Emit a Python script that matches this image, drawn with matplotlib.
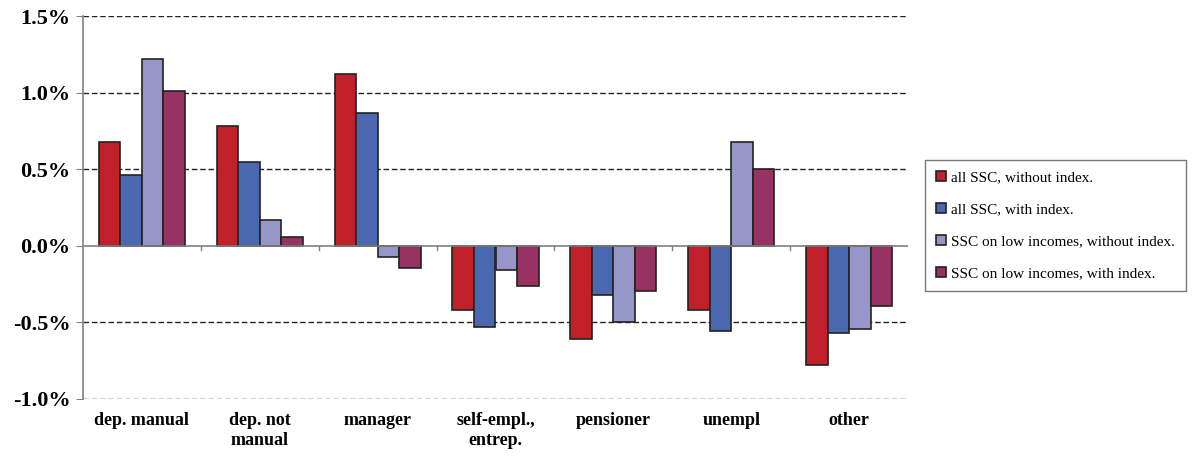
import numpy as np
import matplotlib.pyplot as plt
from matplotlib.ticker import FuncFormatter

categories = ["dep. manual", "dep. not\nmanual", "manager", "self-empl.,\nentrep.",
              "pensioner", "unempl", "other"]
series_names = ["all SSC, without index.", "all SSC, with index.",
                "SSC on low incomes, without index.", "SSC on low incomes, with index."]
all_no_idx = [0.68, 0.78, 1.12, -0.42, -0.61, -0.42, -0.78]
all_idx = [0.46, 0.545, 0.87, -0.53, -0.32, -0.555, -0.57]
low_no_idx = [1.22, 0.17, -0.07, -0.155, -0.495, 0.675, -0.545]
low_idx = [1.01, 0.055, -0.145, -0.26, -0.295, 0.50, -0.39]
colors = ["#c0202a", "#4a68b0", "#9696c8", "#983263"]

plt.rcParams["font.family"] = ["Liberation Serif", "DejaVu Serif"]

fig = plt.figure(figsize=(11.99, 4.57), dpi=100)
ax = fig.add_axes([83 / 1199, 58 / 457, 825 / 1199, 383 / 457])

x = np.arange(len(categories))
w = 0.183
values = [all_no_idx, all_idx, low_no_idx, low_idx]
for i, (vals, name, c) in enumerate(zip(values, series_names, colors)):
    ax.bar(x + (i - 1.5) * w, vals, w, color=c, edgecolor="#222222",
           linewidth=1.2, label=name, zorder=3)

ax.set_xlim(-0.5, len(categories) - 0.5)
ax.set_ylim(-1.0, 1.5)
ax.set_yticks([-1.0, -0.5, 0.0, 0.5, 1.0, 1.5])
ax.yaxis.set_major_formatter(FuncFormatter(lambda v, p: f"{v:.1f}%"))
for t in ax.get_yticklabels():
    t.set_fontweight("bold")
    t.set_fontsize(16)
ax.tick_params(axis="y", length=5, color="#808080", pad=4)

for yv in [-1.0, -0.5, 0.5, 1.0, 1.5]:
    ax.axhline(yv, color="#222222", linestyle=(0, (4, 2)), linewidth=1.0, zorder=1)
ax.axhline(0, color="#808080", linewidth=1.2, zorder=4)

# category labels below plot, tick marks on zero line
ax.set_xticks([])
for xi, lab in zip(x, categories):
    ax.text(xi, -1.085, lab, ha="center", va="top", fontsize=13, fontweight="bold",
            linespacing=1.2)
for b in np.arange(0.5, len(categories) - 0.5, 1.0):
    ax.plot([b, b], [0, -0.03], color="#808080", linewidth=1.0, zorder=4)

for s in ["top", "right", "bottom"]:
    ax.spines[s].set_visible(False)
ax.spines["left"].set_color("#808080")
ax.spines["left"].set_linewidth(1.2)

leg = fig.legend(loc="upper left", bbox_to_anchor=(925 / 1199, 1 - 160 / 457),
                 fontsize=11, frameon=True, fancybox=False, edgecolor="#555555",
                 handlelength=0.7, handleheight=0.7, handletextpad=0.3,
                 labelspacing=1.2, borderpad=0.7, borderaxespad=0)
leg.get_frame().set_linewidth(1.0)

fig.savefig("out.png", dpi=100)
